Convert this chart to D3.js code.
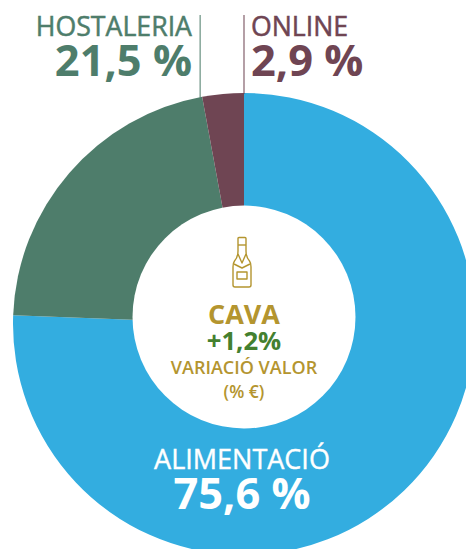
<!DOCTYPE html>
<html lang="ca">
<head>
	<meta charset="UTF-8">
	<title>Cava</title>
	<style>
		html, body { margin: 0; padding: 0; background: #fff; overflow: hidden; }
		svg { display: block; }
		text { font-family: "Open Sans", sans-serif; }
	</style>
	<script src="https://cdnjs.cloudflare.com/ajax/libs/d3/7.8.5/d3.min.js"></script>
</head>
<body>
	<figure id="chart" style="margin:0"></figure>
	<script>
		var channels = ["ALIMENTACIÓ", "HOSTALERIA", "ONLINE"];
		var shares = [75.6, 21.5, 2.9];
		var shareLabels = ["75,6 %", "21,5 %", "2,9 %"];
		var colors = ["#33ade0", "#4e7d6b", "#6f4553"];
		var centerLines = ["CAVA", "+1,2%", "VARIACIÓ VALOR", "(% €)"];

		var w = 466, h = 549;
		var cx = 244, cy = 324;
		var outer = 231, inner = 111.5;

		var svg = d3.select("#chart").append("svg")
			.attr("width", w)
			.attr("height", h);

		var pie = d3.pie().sort(null).value(d => d);
		var arcs = pie(shares);
		var arc = d3.arc().innerRadius(0).outerRadius(outer);

		var g = svg.append("g").attr("transform", `translate(${cx},${cy})`);

		g.selectAll("path.slice")
			.data(arcs)
			.enter()
			.append("path")
			.attr("class", "slice")
			.attr("d", arc)
			.attr("fill", (d, i) => colors[i]);

		// white hole sits a little above the pie centre
		svg.append("circle")
			.attr("cx", cx)
			.attr("cy", 317)
			.attr("r", inner)
			.attr("fill", "#fff");

		// leader lines go from the rim up to the labels
		var leaderTop = 15;
		[[1, arcs[1].endAngle, -2], [2, arcs[2].endAngle, 0]].forEach(l => {
			var px = cx + outer * Math.sin(l[1]);
			var py = cy - outer * Math.cos(l[1]);
			svg.append("line")
				.attr("x1", px + l[2])
				.attr("x2", px + l[2])
				.attr("y1", leaderTop)
				.attr("y2", py + 1)
				.attr("stroke", colors[l[0]])
				.attr("stroke-width", 1.2)
				.attr("opacity", 0.85);
		});

		function label(x, y, txt, size, weight, color, anchor, thicken) {
			svg.append("text")
				.attr("x", x)
				.attr("y", y)
				.attr("text-anchor", anchor)
				.attr("font-size", size)
				.attr("font-weight", weight)
				.attr("fill", color)
				.attr("stroke", thicken ? color : "none")
				.attr("stroke-width", thicken || 0)
				.text(txt);
		}

		label(192, 36, channels[1], 26.7, 400, colors[1], "end", 0.5);
		label(192, 76, shareLabels[1], 43.4, 700, colors[1], "end");
		label(251, 36, channels[2], 26.7, 400, colors[2], "start", 0.5);
		label(251, 76, shareLabels[2], 43.4, 700, colors[2], "start");
		label(242, 469, channels[0], 27, 400, "#fff", "middle", 0.4);
		label(242, 509, shareLabels[0], 43.4, 700, "#fff", "middle");

		label(244, 324, centerLines[0], 27, 700, "#b4952f", "middle");
		label(244, 350, centerLines[1], 25.7, 700, "#44802f", "middle");
		label(244, 374, centerLines[2], 18, 600, "#b4952f", "middle");
		label(244, 398, centerLines[3], 17.5, 600, "#b4952f", "middle");

		// bottle icon
		var bottle = svg.append("g")
			.attr("transform", "translate(242,238)")
			.attr("fill", "none")
			.attr("stroke", "#b4952f")
			.attr("stroke-width", 1.4)
			.attr("stroke-linejoin", "round");
		bottle.append("path")
			.attr("d", "M-4,0.5 Q-4,-0.5 -3,-0.5 L3,-0.5 Q4,-0.5 4,0.5 L4,8 L4,13 Q4,19 7.5,23 Q9,25 9,29 L9,47 Q9,49 7,49 L-7,49 Q-9,49 -9,47 L-9,29 Q-9,25 -7.5,23 Q-4,19 -4,13 L-4,8 Z");
		bottle.append("path").attr("d", "M-4,7 L4,7");
		bottle.append("path").attr("d", "M-8,26 L0,30 L8,26 M-4,16 L0,25 L4,16");
		bottle.append("rect").attr("x", -5).attr("y", 34).attr("width", 10).attr("height", 7);
	</script>
</body>
</html>
